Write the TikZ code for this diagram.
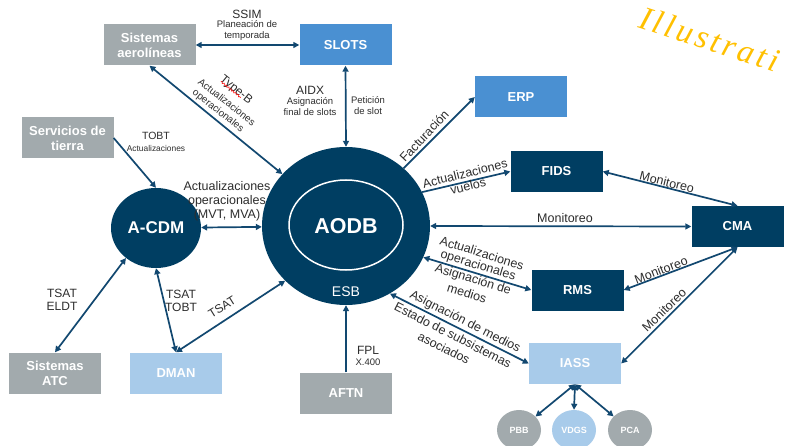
\documentclass[tikz,border=0pt]{standalone}
\usepackage{fontspec}
\setmainfont{Liberation Sans}
\newfontfamily\wmfont{Liberation Serif}
\usetikzlibrary{arrows.meta,shapes.geometric,calc,decorations.pathmorphing}
\definecolor{navy}{RGB}{0,62,98}
\definecolor{boxgray}{RGB}{162,170,173}
\definecolor{midblue}{RGB}{74,144,210}
\definecolor{lightblue}{RGB}{168,203,234}
\definecolor{arrowc}{RGB}{18,72,112}
\definecolor{labc}{RGB}{45,45,45}
\definecolor{wmc}{RGB}{255,192,0}
\begin{document}
\begin{tikzpicture}[x=1pt,y=-1pt,
  box/.style={rectangle, minimum width=92pt, minimum height=41pt, inner sep=0pt, text=white, align=center,
    font=\bfseries\fontsize{13}{15}\selectfont},
  graybox/.style={box, fill=boxgray},
  bluebox/.style={box, fill=midblue},
  navybox/.style={box, fill=navy},
  lightbox/.style={box, fill=lightblue},
  smallcirc/.style={ellipse, minimum width=44pt, minimum height=40pt, inner sep=0pt, text=white,
    font=\bfseries\fontsize{9}{10}\selectfont},
  link/.style={draw=arrowc, line width=1.7pt},
  both/.style={link, {Triangle[length=6pt,width=6pt]}-{Triangle[length=6pt,width=6pt]}},
  one/.style={link, -{Triangle[length=6pt,width=6pt]}},
  lab/.style={text=labc, inner sep=0pt, align=center, font=\fontsize{12.5}{14}\selectfont},
  mlab/.style={text=labc, inner sep=0pt, align=center, font=\fontsize{12}{13}\selectfont},
  slab/.style={text=labc, inner sep=0pt, align=center, font=\fontsize{9.5}{11}\selectfont},
  tlab/.style={text=labc, inner sep=0pt, align=center, font=\fontsize{10}{11}\selectfont},
]
\useasboundingbox (0,0) rectangle (786,446);
\clip (0,0) rectangle (786,446);
\fill[white] (0,0) rectangle (786,446);

% boxes
\node[graybox] (aero) at (149.5,45) {Sistemas\\aerolíneas};
\node[bluebox] (slots) at (345.5,45) {SLOTS};
\node[bluebox] (erp) at (521,97) {ERP};
\node[navybox] (fids) at (556.5,171.5) {FIDS};
\node[navybox] (cma) at (737.5,226.5) {CMA};
\node[navybox] (rms) at (577.5,290) {RMS};
\node[lightbox] (iass) at (575,363.5) {IASS};
\node[graybox] (serv) at (67.5,138) {Servicios de\\tierra};
\node[graybox] (atc) at (55,373) {Sistemas\\ATC};
\node[lightbox] (dman) at (176,373) {DMAN};
\node[graybox] (aftn) at (346,393) {AFTN};

% circles
\node[ellipse, fill=navy, minimum width=168pt, minimum height=158pt, inner sep=0pt, text=white,
  font=\bfseries\fontsize{21.5}{24}\selectfont] (aodb) at (346,226) {AODB};
\draw[white, line width=1.5pt] ($(aodb.center)+(0,-1)$) ellipse [x radius=57pt, y radius=45pt];
\node[text=white, inner sep=0pt, font=\fontsize{14}{16}\selectfont] (esb) at (346,292) {ESB};
\node[ellipse, fill=navy, minimum width=90pt, minimum height=80pt, inner sep=0pt, text=white,
  font=\bfseries\fontsize{17}{19}\selectfont] (acdm) at (156,228) {A-CDM};
\node[smallcirc, fill=boxgray] (pbb) at (519,430) {PBB};
\node[smallcirc, fill=lightblue] (vdgs) at (574,430) {VDGS};
\node[smallcirc, fill=boxgray] (pca) at (630,430) {PCA};

% connectors
\draw[both] (aero.east) -- (slots.west);
\draw[both] (aero.south) -- (aodb);
\draw[both] (slots.south) -- (aodb.north);
\draw[one] (aodb) -- (erp.west);
\draw[one] (aodb.24) -- (fids.west);
\draw[both] (fids.east) -- (cma.north);
\draw[both] (aodb.east) -- (cma.west);
\draw[both] (aodb.-22) -- (rms.west);
\draw[both] (cma.south) -- (rms.east);
\draw[both] (cma.south) -- (iass.east);
\draw[both] (aodb.-57) -- (iass.west);
\draw[both] (iass.south) -- (pbb);
\draw[both] (iass.south) -- (vdgs.north);
\draw[both] (iass.south) -- (pca);
\draw[one] (serv.east) -- (acdm.north);
\draw[both] (acdm) -- (aodb);
\draw[both] (atc.north) -- (acdm.225);
\draw[both] (dman.north) -- (acdm.south);
\draw[both] (dman.north) -- (aodb.222);
\draw[one] (aftn.north) -- (aodb.south);

% labels, top
\node[mlab] (ssim) at (247,14) {SSIM};
\node[slab] (plan) at (247,30.5) {Planeación de\\temporada};
\node[mlab] (aidx) at (310,90) {AIDX};
\node[slab] (asig) at (310,107) {Asignación\\final de slots};
\node[slab] (pet) at (368,106) {Petición\\de slot};
\node[mlab, rotate=-39] (typeb) at (236,90) {Type-B};
\draw[red, line width=0.6pt, decorate, decoration={snake, amplitude=0.8pt, segment length=3pt}]
  ($(typeb.base west)!0.05!(typeb.base east)$) -- ($(typeb.base west)!0.72!(typeb.base east)$);
\node[tlab, rotate=-38] (aoa) at (227,102) {Actualizaciones};
\node[tlab, rotate=-38] (aob) at (218,111) {operacionales};

% labels, left
\node[text=labc, inner sep=0pt, font=\fontsize{10.5}{12}\selectfont] (tobt) at (156,136) {TOBT};
\node[text=labc, inner sep=0pt, font=\fontsize{8.4}{10}\selectfont] (tobta) at (156,148) {Actualizaciones};
\node[lab] (acdml) at (227,201) {Actualizaciones\\operacionales\\(MVT, MVA)};
\node[mlab] (tsel) at (62,299.5) {TSAT\\ELDT};
\node[mlab] (tsto) at (181,300.5) {TSAT\\TOBT};
\node[mlab, rotate=32] (tsat) at (222,307) {TSAT};
\node[mlab] (fpl) at (368,350) {FPL};
\node[slab] (x400) at (368,362) {X.400};

% labels, right
\node[lab, rotate=47] (fact) at (424,136) {Facturación};
\node[lab, rotate=14] (fa1) at (465,173.5) {Actualizaciones};
\node[lab, rotate=14] (fa2) at (468,186) {vuelos};
\node[lab, rotate=-14] (mon1) at (667,182) {Monitoreo};
\node[lab] (mon2) at (565,218) {Monitoreo};
\node[lab, rotate=-17] (ra1) at (482,253) {Actualizaciones};
\node[lab, rotate=-17] (ra2) at (478,266) {operacionales};
\node[lab, rotate=-17] (ra3) at (473,280) {Asignación de};
\node[lab, rotate=-17] (ra4) at (467,293) {medios};
\node[lab, rotate=21] (mon3) at (661,270) {Monitoreo};
\node[lab, rotate=44] (mon4) at (664,310) {Monitoreo};
\node[lab, rotate=-27] (ia1) at (465,322) {Asignación de medios};
\node[lab, rotate=-27] (ia2) at (453,335) {Estado de subsistemas};
\node[lab, rotate=-27] (ia3) at (444,348) {asociados};

% watermark
\node[anchor=base west, rotate=-18, inner sep=0pt, text=wmc,
  font=\wmfont\itshape\fontsize{33}{33}\selectfont\addfontfeature{LetterSpace=10}] (wm) at (637,27) {Illustrati};
\end{tikzpicture}
\end{document}
